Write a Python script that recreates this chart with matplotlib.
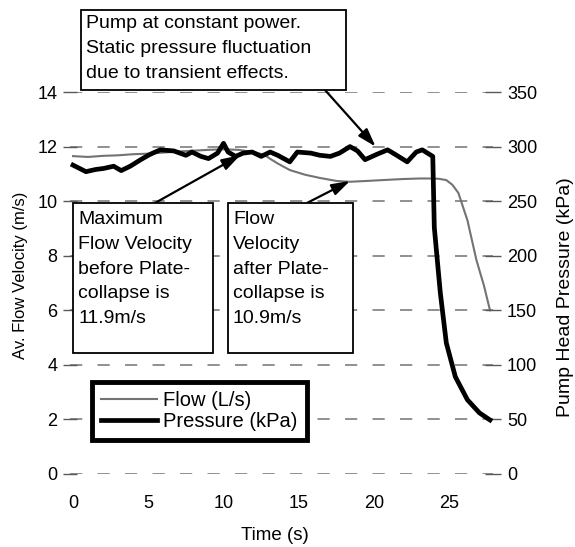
import matplotlib
import matplotlib.pyplot as plt
from matplotlib.patches import Rectangle

matplotlib.use("Agg")

# Data
flow_t = [0, 1, 2, 3, 4, 5, 6, 7, 8, 9, 10, 11, 12, 12.7, 13.1, 13.6, 14.4,
          15.4, 16.4, 17.5, 18.4, 19.5, 20.5, 21.9, 23.0, 23.7, 24.3, 24.8,
          25.2, 25.6, 26.2, 26.8, 27.3, 27.7]
flow_v = [11.65, 11.62, 11.66, 11.68, 11.72, 11.74, 11.78, 11.82, 11.85, 11.88,
          11.9, 11.88, 11.8, 11.7, 11.55, 11.38, 11.14, 10.97, 10.85, 10.74,
          10.71, 10.74, 10.77, 10.81, 10.83, 10.83, 10.82, 10.77, 10.6, 10.3,
          9.3, 7.84, 6.9, 6.0]

press_t = [0, 0.86, 1.5, 2.05, 2.7, 3.2, 3.8, 4.5, 5.0, 5.3, 5.8, 6.7, 7.5,
           7.9, 8.5, 9.0, 9.6, 10.0, 10.3, 10.8, 11.3, 11.9, 12.5, 13.1, 13.6,
           14.4, 14.9, 15.8, 16.4, 17.1, 17.7, 18.4, 18.9, 19.4, 20.2, 20.9,
           21.5, 22.2, 22.8, 23.2, 23.9, 24.0, 24.4, 24.8, 25.4, 26.2, 27.0,
           27.7]
press_kpa = [283, 277, 279, 280, 282, 278, 282, 288, 292, 294, 297, 296, 292,
             295, 291, 289, 294, 303, 295, 291, 294, 295, 291, 295, 292, 286,
             295, 294, 292, 291, 294, 300, 296, 288, 293, 297, 292, 286, 295,
             297, 291, 226, 166, 120, 89, 68, 56, 49.5]

v_ticks = [0, 2, 4, 6, 8, 10, 12, 14]
p_ticks = [0, 50, 100, 150, 200, 250, 300, 350]
t_ticks = [0, 5, 10, 15, 20, 25]

W, H = 575, 547
FONT = "Liberation Sans"
plt.rcParams["font.family"] = [FONT, "DejaVu Sans"]

fig = plt.figure(figsize=(W / 100, H / 100), dpi=100)
ax = fig.add_axes([70 / W, 1 - 474 / H, 423 / W, 382 / H])
ax2 = ax.twinx()

ax.set_xlim(-0.2, 27.9)
ax.set_ylim(0, 14)
ax2.set_ylim(0, 350)

for a in (ax, ax2):
    for s in a.spines.values():
        s.set_visible(False)

ax.set_yticks(v_ticks)
ax2.set_yticks(p_ticks)
ax.set_xticks(t_ticks)
ax.tick_params(axis="x", length=0, pad=15, labelsize=13)
ax.tick_params(axis="y", direction="inout", length=10, width=1, color="0.35",
               labelsize=13, pad=4)
ax2.tick_params(axis="y", direction="inout", length=12, width=1, color="0.35",
                labelsize=13, pad=4)

ax.yaxis.grid(True, color="0.45", lw=1.1, linestyle=(0, (8, 10)))
ax.set_axisbelow(True)

ax.plot(flow_t, flow_v, color="0.45", lw=1.5, label="Flow (L/s)")
ax2.plot(press_t, press_kpa, color="black", lw=3.4, label="Pressure (kPa)",
         solid_joinstyle="round")

ax.set_xlabel("Time (s)", fontsize=13.5)
ax.xaxis.set_label_coords((275 - 70) / 423, -(527 - 474) / 382)
ax.set_ylabel("Av. Flow Velocity (m/s)", fontsize=12)
ax.yaxis.set_label_coords(-(70 - 28) / 423, (474 - 275) / 382)
ax2.set_ylabel("Pump Head Pressure (kPa)", fontsize=14)
ax2.yaxis.set_label_coords((557 - 70) / 423, (474 - 297) / 382)

# legend
h1, l1 = ax.get_legend_handles_labels()
h2, l2 = ax2.get_legend_handles_labels()
leg = ax2.legend(h1 + h2, l1 + l2, loc="upper left",
                 bbox_to_anchor=(92 / W, 1 - 382 / H),
                 bbox_transform=fig.transFigure, borderaxespad=0,
                 fancybox=False, fontsize=14.5, handlelength=2.8,
                 handletextpad=0.3, labelspacing=0.1, borderpad=0.45,
                 framealpha=1)
leg.get_frame().set_edgecolor("black")
leg.get_frame().set_linewidth(3.5)


def fpx(x, y):
    return x / W, 1 - y / H


def box(x0, y0, x1, y1):
    fig.patches.append(Rectangle((x0 / W, 1 - y1 / H), (x1 - x0) / W,
                                 (y1 - y0) / H, transform=fig.transFigure,
                                 facecolor="white", edgecolor="black",
                                 lw=1.3, zorder=5))


notes = [
    ((81, 10, 346, 90), (86, 15),
     "Pump at constant power.\nStatic pressure fluctuation\ndue to transient effects."),
    ((73, 203, 213, 353), (78, 211),
     "Maximum\nFlow Velocity\nbefore Plate-\ncollapse is\n11.9m/s"),
    ((228, 203, 353, 353), (233, 211),
     "Flow\nVelocity\nafter Plate-\ncollapse is\n10.9m/s"),
]
for rect, pos, txt in notes:
    box(*rect)
    fig.text(*fpx(*pos), txt, ha="left", va="top", fontsize=14,
             linespacing=1.6, zorder=6)

arrow = dict(arrowstyle="-|>,head_length=1.1,head_width=0.35", lw=1.6,
             color="black", shrinkA=0, shrinkB=0)
ax2.annotate("", xy=(20.1, 300), xytext=fpx(325, 90),
             textcoords="figure fraction", arrowprops=arrow,
             annotation_clip=False)
ax2.annotate("", xy=(11.1, 292), xytext=fpx(155, 203),
             textcoords="figure fraction", arrowprops=arrow,
             annotation_clip=False)
ax.annotate("", xy=(18.4, 10.74), xytext=fpx(307, 203),
            textcoords="figure fraction", arrowprops=arrow,
            annotation_clip=False)

fig.savefig("out.png", dpi=100)
